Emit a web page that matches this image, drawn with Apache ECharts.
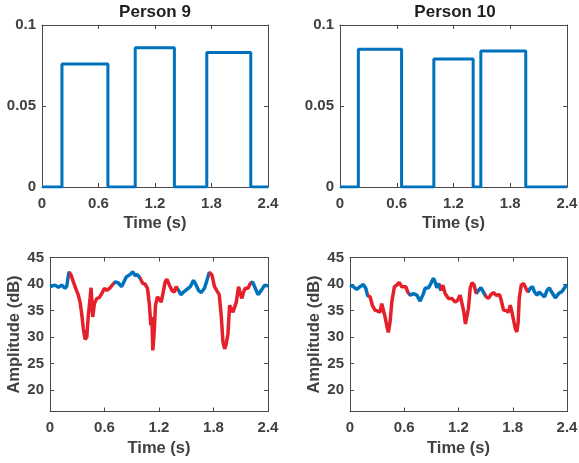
<!DOCTYPE html>
<html><head><meta charset="utf-8">
<script src="https://cdn.jsdelivr.net/npm/echarts@6/dist/echarts.min.js"></script>
<style>html,body{margin:0;padding:0;background:#fff}#c{width:579px;height:463px}</style>
</head><body><div id="c"></div>
<script>
// ---- data ----
const titles = ['Person 9', 'Person 10'];
const timeTicks = [0, 0.6, 1.2, 1.8, 2.4];
const probTicks = [0, 0.05, 0.1];
const ampTicks = [20, 25, 30, 35, 40, 45];

const p9PulseStart = [0.212, 0.99, 1.75];
const p9PulseEnd = [0.70, 1.406, 2.217];
const p9PulseHeight = [0.076, 0.086, 0.083];
const p10PulseStart = [0.194, 0.992, 1.489];
const p10PulseEnd = [0.651, 1.408, 1.964];
const p10PulseHeight = [0.085, 0.079, 0.084];

const p9Time = [0.0,0.055,0.092,0.129,0.165,0.184,0.209,0.232,0.257,0.283,0.312,0.331,0.349,0.367,0.386,0.405,0.422,0.441,0.452,0.463,0.471,0.488,0.515,0.540,0.570,0.599,0.625,0.662,0.680,0.717,0.753,0.788,0.838,0.882,0.912,0.937,0.962,0.992,1.022,1.047,1.073,1.095,1.110,1.121,1.132,1.147,1.161,1.183,1.205,1.224,1.243,1.268,1.287,1.315,1.342,1.367,1.389,1.415,1.441,1.470,1.507,1.544,1.580,1.610,1.635,1.665,1.701,1.728,1.753,1.783,1.811,1.838,1.863,1.885,1.904,1.922,1.940,1.959,1.977,1.996,2.014,2.032,2.051,2.076,2.095,2.113,2.131,2.150,2.180,2.205,2.230,2.260,2.290,2.326,2.363,2.400];
const p9Amp = [39.5,39.8,39.4,39.8,39.2,39.6,42.3,41.7,40.4,39.2,37.9,36.6,34.4,31.6,29.6,30.0,34.1,37.3,39.3,36.0,33.8,36.3,37.3,37.4,38.2,39.2,38.8,39.3,39.7,40.4,40.2,39.5,41.3,41.8,42.3,41.6,41.8,41.1,40.1,40.0,39.2,36.0,32.2,33.8,27.5,30.9,36.0,37.6,37.9,36.6,38.2,40.4,40.9,39.8,38.8,38.5,39.5,38.8,38.0,38.5,39.0,39.5,40.7,39.8,38.8,38.4,39.2,40.7,42.2,41.7,39.5,38.7,38.0,34.1,29.1,27.8,28.7,30.6,36.0,36.3,34.7,34.4,36.6,39.5,38.2,37.3,38.5,39.2,39.2,40.1,40.4,39.2,38.0,38.8,39.8,39.6];

const p10Time = [0.0,0.037,0.074,0.111,0.147,0.174,0.196,0.222,0.247,0.277,0.307,0.332,0.351,0.369,0.388,0.410,0.424,0.443,0.462,0.491,0.517,0.543,0.573,0.590,0.617,0.639,0.665,0.701,0.739,0.775,0.812,0.831,0.867,0.894,0.923,0.941,0.960,0.982,1.005,1.027,1.052,1.089,1.126,1.163,1.188,1.218,1.237,1.255,1.277,1.293,1.310,1.329,1.351,1.373,1.396,1.421,1.448,1.476,1.506,1.532,1.558,1.587,1.617,1.654,1.672,1.698,1.725,1.753,1.772,1.791,1.809,1.828,1.846,1.860,1.872,1.894,1.920,1.946,1.968,1.994,2.019,2.041,2.068,2.093,2.123,2.152,2.179,2.204,2.234,2.271,2.307,2.345,2.381,2.400];
const p10Amp = [39.8,39.5,39.0,39.5,39.9,39.2,37.8,37.6,36.0,35.1,34.9,34.7,36.3,36.6,33.8,31.9,30.9,32.8,36.6,39.5,39.8,40.3,39.5,39.2,39.5,38.5,37.9,38.2,37.9,36.8,38.2,39.2,39.3,40.1,41.1,40.4,39.3,40.1,38.8,39.8,38.2,37.3,37.3,36.6,36.9,37.9,37.6,35.1,32.5,32.2,35.4,39.2,40.3,39.8,38.2,38.8,39.3,38.5,37.6,37.3,38.0,38.4,37.9,38.0,37.0,35.1,35.0,34.7,36.0,34.7,33.2,31.6,31.0,32.8,37.3,39.8,40.1,39.2,38.5,39.2,39.5,38.5,37.9,38.5,38.0,37.6,38.8,39.3,38.4,37.4,38.2,38.6,39.5,39.9];

// ---- build ----
const BLUE = '#0072BD', RED = '#E5202B';
const FONT = 'Liberation Sans';
const LABEL_COLOR = '#404040';
const AXIS_COLOR = '#4a4a4a';

function stepData(starts, ends, heights) {
  const d = [[0, 0]];
  for (let i = 0; i < starts.length; i++) {
    d.push([starts[i], 0], [starts[i], heights[i]], [ends[i], heights[i]], [ends[i], 0]);
  }
  d.push([2.4, 0]);
  return d;
}
function zip(a, b) { return a.map((v, i) => [v, b[i]]); }

const grids = [
  {left: 42, top: 25, width: 226, height: 162},
  {left: 340, top: 25, width: 227, height: 162},
  {left: 50, top: 257.5, width: 218, height: 154},
  {left: 350, top: 257.5, width: 217, height: 154}
];

const xAxes = [], yAxes = [];
grids.forEach((g, i) => {
  const isAmp = i >= 2;
  xAxes.push({
    type: 'value', gridIndex: i, position: 'bottom', min: 0, max: 2.4, interval: 0.6,
    name: 'Time (s)', nameLocation: 'middle', nameGap: 28,
    nameTextStyle: {fontFamily: FONT, fontWeight: 'bold', fontSize: 16.5, color: LABEL_COLOR},
    axisLine: {show: true, onZero: false, lineStyle: {color: AXIS_COLOR, width: 1}},
    axisTick: {show: true, inside: true, length: 4, lineStyle: {color: AXIS_COLOR}},
    axisLabel: {show: true, margin: 9, fontFamily: FONT, fontWeight: 'bold', fontSize: 15, color: LABEL_COLOR,
      customValues: timeTicks, formatter: v => String(+v.toFixed(2))},
    splitLine: {show: false}
  });
  xAxes.push({
    type: 'value', gridIndex: i, position: 'top', min: 0, max: 2.4, interval: 0.6,
    axisLine: {show: true, onZero: false, lineStyle: {color: AXIS_COLOR, width: 1}},
    axisTick: {show: true, inside: true, length: 4, lineStyle: {color: AXIS_COLOR}},
    axisLabel: {show: false}, splitLine: {show: false}
  });
  const yBase = isAmp
    ? {min: 16, max: 45}
    : {min: 0, max: 0.1, interval: 0.05};
  const yTicks = isAmp ? ampTicks : probTicks;
  yAxes.push(Object.assign({
    type: 'value', gridIndex: i, position: 'left',
    name: isAmp ? 'Amplitude (dB)' : '', nameLocation: 'middle', nameGap: 26, nameRotate: 90,
    nameTextStyle: {fontFamily: FONT, fontWeight: 'bold', fontSize: 16.5, color: LABEL_COLOR},
    axisLine: {show: true, onZero: false, lineStyle: {color: AXIS_COLOR, width: 1}},
    axisTick: {show: true, inside: true, length: 4, lineStyle: {color: AXIS_COLOR}, customValues: yTicks},
    axisLabel: {show: true, margin: 6, fontFamily: FONT, fontWeight: 'bold', fontSize: 15, color: LABEL_COLOR,
      customValues: yTicks, formatter: v => String(+(+v).toFixed(3))},
    splitLine: {show: false}
  }, yBase));
  yAxes.push(Object.assign({
    type: 'value', gridIndex: i, position: 'right',
    axisLine: {show: true, onZero: false, lineStyle: {color: AXIS_COLOR, width: 1}},
    axisTick: {show: true, inside: true, length: 4, lineStyle: {color: AXIS_COLOR}, customValues: yTicks},
    axisLabel: {show: false}, splitLine: {show: false}
  }, yBase));
});

const series = [
  {type: 'line', xAxisIndex: 0, yAxisIndex: 0, data: stepData(p9PulseStart, p9PulseEnd, p9PulseHeight),
   showSymbol: false, lineStyle: {color: BLUE, width: 3}, itemStyle: {color: BLUE}, animation: false},
  {type: 'line', xAxisIndex: 2, yAxisIndex: 2, data: stepData(p10PulseStart, p10PulseEnd, p10PulseHeight),
   showSymbol: false, lineStyle: {color: BLUE, width: 3}, itemStyle: {color: BLUE}, animation: false},
  {type: 'line', xAxisIndex: 4, yAxisIndex: 4, data: zip(p9Time, p9Amp),
   showSymbol: false, lineStyle: {width: 3.5}, animation: false},
  {type: 'line', xAxisIndex: 6, yAxisIndex: 6, data: zip(p10Time, p10Amp),
   showSymbol: false, lineStyle: {width: 3.5}, animation: false}
];

function pieces(starts, ends) {
  return starts.map((s, i) => ({gte: s, lte: ends[i], color: RED}));
}

const option = {
  backgroundColor: '#fff',
  animation: false,
  title: [
    {text: titles[0], left: 155, top: 4, padding: 0, textAlign: 'center',
     textStyle: {fontFamily: FONT, fontWeight: 'bold', fontSize: 17, color: '#1f1f1f'}},
    {text: titles[1], left: 455, top: 4, padding: 0, textAlign: 'center',
     textStyle: {fontFamily: FONT, fontWeight: 'bold', fontSize: 17, color: '#1f1f1f'}}
  ],
  grid: grids.map(g => Object.assign({containLabel: false, outerBoundsMode: 'none'}, g)),
  xAxis: xAxes,
  yAxis: yAxes,
  visualMap: [
    {type: 'piecewise', show: false, dimension: 0, seriesIndex: 2,
     pieces: pieces(p9PulseStart, p9PulseEnd), outOfRange: {color: BLUE}},
    {type: 'piecewise', show: false, dimension: 0, seriesIndex: 3,
     pieces: pieces(p10PulseStart, p10PulseEnd), outOfRange: {color: BLUE}}
  ],
  series: series
};
const chart = echarts.init(document.getElementById('c'), null, {renderer: 'canvas'});
chart.setOption(option);
</script></body></html>
